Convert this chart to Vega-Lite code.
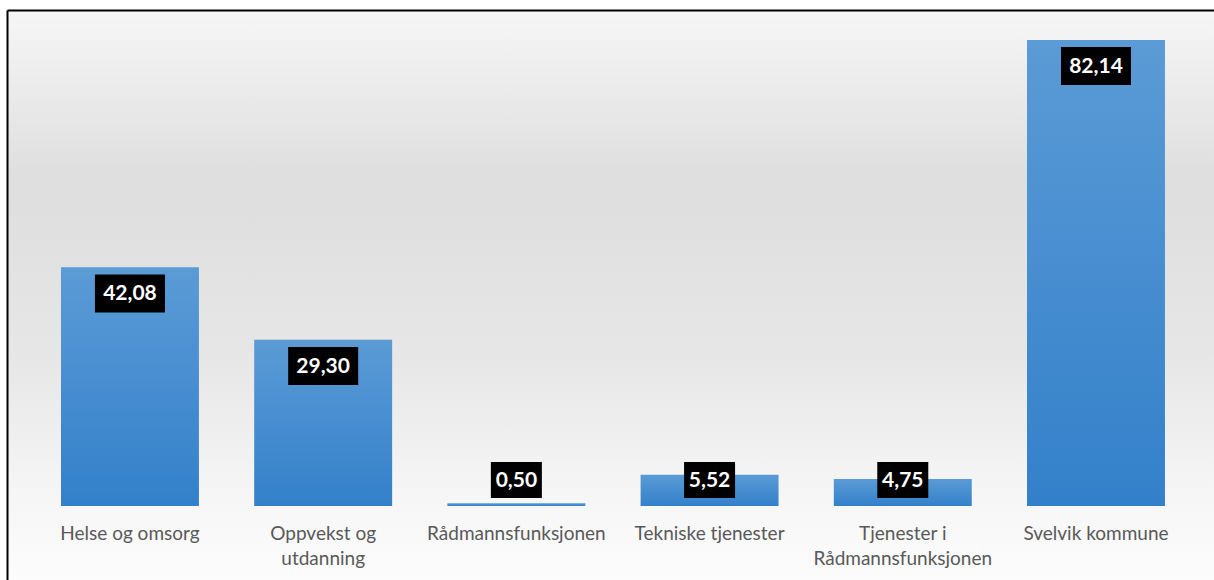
{
  "$schema": "https://vega.github.io/schema/vega-lite/v6.json",
  "width": 1207,
  "height": 570,
  "autosize": "none",
  "padding": {"left": 7, "top": 10, "right": 0, "bottom": 0},
  "background": "white",
  "config": {
    "view": {"stroke": null},
    "font": "Lato",
    "locale": {"number": {"decimal": ",", "thousands": " ", "grouping": [3], "currency": ["", " kr"]}}
  },
  "resolve": {"axis": {"x": "independent"}},
  "layer": [
    {
      "data": {"values": [{"bg": 1}]},
      "mark": {
        "type": "rect",
        "color": {
          "gradient": "linear", "x1": 0, "y1": 0, "x2": 0, "y2": 1,
          "stops": [
            {"offset": 0, "color": "#f6f6f6"},
            {"offset": 0.3, "color": "#dedede"},
            {"offset": 0.6, "color": "#e6e6e6"},
            {"offset": 0.85, "color": "#f6f6f6"},
            {"offset": 1, "color": "#fcfcfc"}
          ]
        }
      },
      "encoding": {}
    },
    {
      "data": {"name": "main", "values": [
        {"kategori": "Helse og omsorg", "verdi": 42.08},
        {"kategori": "Oppvekst og utdanning", "verdi": 29.30},
        {"kategori": "Rådmannsfunksjonen", "verdi": 0.50},
        {"kategori": "Tekniske tjenester", "verdi": 5.52},
        {"kategori": "Tjenester i Rådmannsfunksjonen", "verdi": 4.75},
        {"kategori": "Svelvik kommune", "verdi": 82.14}
      ]},
      "layer": [
        {
          "mark": {
            "type": "bar",
            "color": {
              "gradient": "linear", "x1": 0, "y1": 0, "x2": 0, "y2": 1,
              "stops": [
                {"offset": 0, "color": "#5b9bd6"},
                {"offset": 1, "color": "#3380ca"}
              ]
            }
          },
          "encoding": {
            "x": {
              "field": "kategori", "type": "nominal", "sort": null,
              "scale": {"paddingInner": 0.286, "paddingOuter": 0.2666, "align": 0.524},
              "axis": {
                "orient": "bottom", "offset": -74, "domain": false, "ticks": false, "title": null, "zindex": 2,
                "labelAngle": 0, "labelFont": "Lato", "labelFontSize": 19, "labelColor": "#595959",
                "labelPadding": 18, "labelLineHeight": 25, "labelLimit": 300,
                "labelExpr": "datum.label == 'Oppvekst og utdanning' ? ['Oppvekst og', 'utdanning'] : datum.label == 'Tjenester i Rådmannsfunksjonen' ? ['Tjenester i', 'Rådmannsfunksjonen'] : datum.label"
              }
            },
            "y": {
              "field": "verdi", "type": "quantitative",
              "scale": {"domain": [-13.04, 87.43], "nice": false, "zero": false},
              "axis": {"orient": "left", "domain": true, "domainColor": "#000000", "domainWidth": 2, "labels": false, "ticks": false, "grid": false, "title": null, "zindex": 2}
            },
            "y2": {"datum": 0}
          }
        },
        {
          "transform": [
            {"filter": "datum.verdi >= 10"},
            {"calculate": "max(datum.verdi - 4.6, 4.58)", "as": "etikettPos"}
          ],
          "mark": {"type": "tick", "color": "#000000", "size": 70, "thickness": 38, "opacity": 1},
          "encoding": {
            "x": {
              "field": "kategori", "type": "nominal", "sort": null,
              "axis": {"orient": "top", "domain": true, "domainColor": "#000000", "domainWidth": 2, "labels": false, "ticks": false, "title": null, "zindex": 2}
            },
            "y": {
              "field": "etikettPos", "type": "quantitative",
              "axis": {"orient": "left", "domain": true, "domainColor": "#000000", "domainWidth": 2, "labels": false, "ticks": false, "grid": false, "title": null, "zindex": 2}
            }
          }
        },
        {
          "transform": [
            {"filter": "datum.verdi < 10"},
            {"calculate": "max(datum.verdi - 4.6, 4.58)", "as": "etikettPos"}
          ],
          "mark": {"type": "tick", "color": "#000000", "size": 51, "thickness": 36, "opacity": 1},
          "encoding": {
            "x": {"field": "kategori", "type": "nominal", "sort": null, "axis": null},
            "y": {
              "field": "etikettPos", "type": "quantitative",
              "axis": {"orient": "left", "domain": true, "domainColor": "#000000", "domainWidth": 2, "labels": false, "ticks": false, "grid": false, "title": null, "zindex": 2}
            }
          }
        },
        {
          "transform": [
            {"calculate": "max(datum.verdi - 4.6, 4.58)", "as": "etikettPos"}
          ],
          "mark": {"type": "text", "color": "#ffffff", "font": "Lato", "fontSize": 21, "fontWeight": "bold", "baseline": "middle", "align": "center", "dy": 1},
          "encoding": {
            "x": {"field": "kategori", "type": "nominal", "sort": null, "axis": null},
            "y": {
              "field": "etikettPos", "type": "quantitative",
              "axis": {"orient": "left", "domain": true, "domainColor": "#000000", "domainWidth": 2, "labels": false, "ticks": false, "grid": false, "title": null, "zindex": 2}
            },
            "text": {"field": "verdi", "type": "quantitative", "format": ".2f"}
          }
        }
      ]
    }
  ]
}
